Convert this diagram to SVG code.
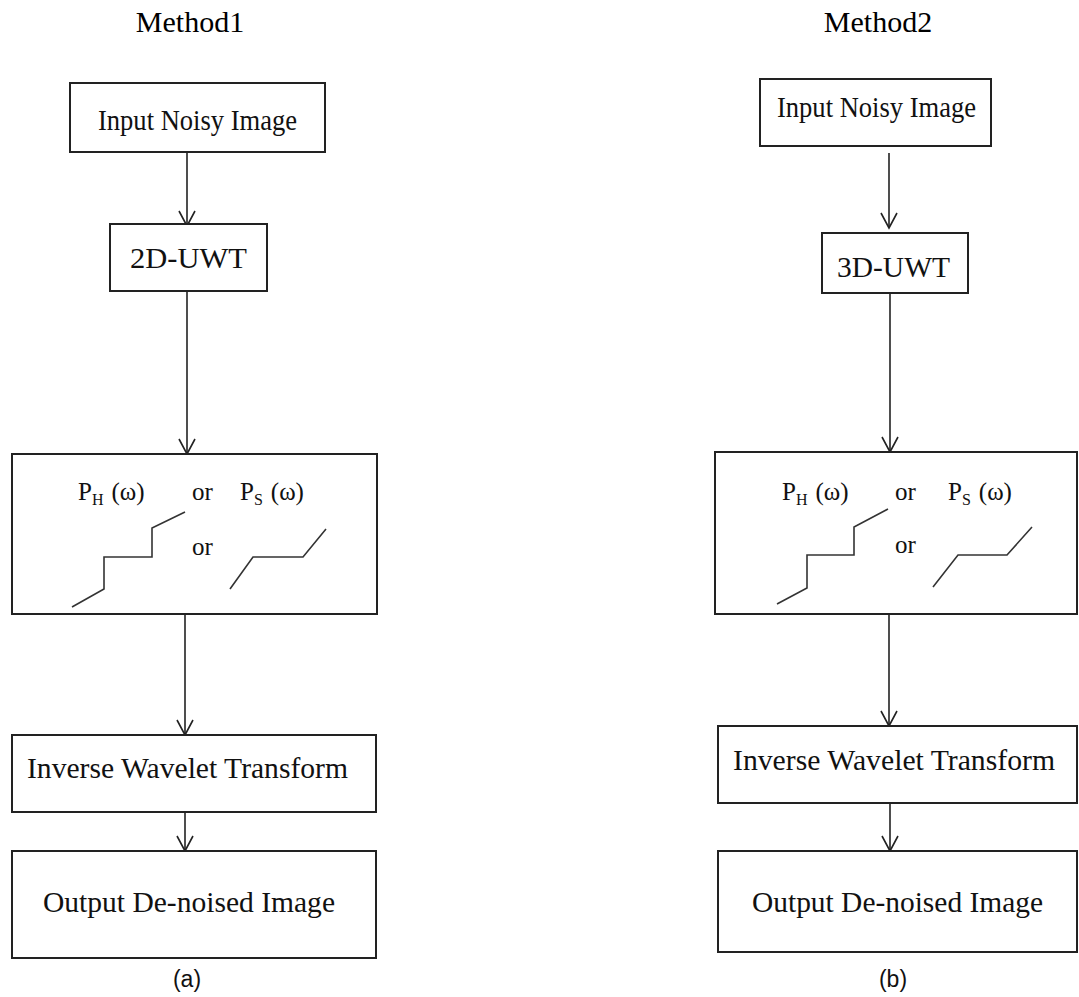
<svg xmlns="http://www.w3.org/2000/svg" width="1079" height="997" viewBox="0 0 1079 997">
  <style>
    .box { fill: #fff; stroke: #222; stroke-width: 2; }
    .link { fill: none; stroke: #222; stroke-width: 1.6; }
    .curve { fill: none; stroke: #333; stroke-width: 1.6; }
    .title { font-family: "Liberation Serif", "Times New Roman", serif; font-size: 30px; fill: #000; text-anchor: middle; }
    .lbl { font-family: "Liberation Serif", "Times New Roman", serif; font-size: 29px; fill: #111; }
    .math { font-family: "Liberation Serif", "Times New Roman", serif; font-size: 25px; fill: #111; }
    .sub { font-size: 16px; }
    .cap { font-family: "Liberation Sans", Arial, sans-serif; font-size: 23px; fill: #111; text-anchor: middle; }
  </style>
  <defs>
    <!-- open V arrowhead; x axis follows the line direction -->
    <marker id="vhead" markerUnits="userSpaceOnUse" markerWidth="20" markerHeight="20" viewBox="-17 -10 20 20" refX="0" refY="0" orient="auto">
      <path d="M-15,-8 L0,0 L-15,8" fill="none" stroke="#222" stroke-width="1.6"/>
    </marker>
  </defs>

  <rect width="1079" height="997" fill="#fff"/>

  <!-- column titles -->
  <text class="title" x="190" y="32">Method1</text>
  <text class="title" x="878" y="32">Method2</text>

  <!-- connectors -->
  <g id="connectors">
    <line class="link" x1="187" y1="152" x2="187" y2="226" marker-end="url(#vhead)"/>
    <line class="link" x1="187" y1="291" x2="187" y2="454" marker-end="url(#vhead)"/>
    <line class="link" x1="185" y1="614" x2="185" y2="735" marker-end="url(#vhead)"/>
    <line class="link" x1="185" y1="812" x2="185" y2="851" marker-end="url(#vhead)"/>

    <line class="link" x1="889" y1="153" x2="889" y2="228" marker-end="url(#vhead)"/>
    <line class="link" x1="890" y1="293" x2="890" y2="452" marker-end="url(#vhead)"/>
    <line class="link" x1="889" y1="614" x2="889" y2="726" marker-end="url(#vhead)"/>
    <line class="link" x1="890" y1="803" x2="890" y2="851" marker-end="url(#vhead)"/>
  </g>

  <!-- Method 1 -->
  <g id="m1-input">
    <rect class="box" x="70" y="83" width="255" height="69"/>
    <text class="lbl" x="98" y="130" textLength="199" lengthAdjust="spacingAndGlyphs">Input Noisy Image</text>
  </g>
  <g id="m1-uwt">
    <rect class="box" x="110" y="224" width="157" height="67"/>
    <text class="lbl" x="130" y="268" textLength="117" lengthAdjust="spacingAndGlyphs">2D-UWT</text>
  </g>
  <g id="m1-threshold">
    <rect class="box" x="12" y="454" width="365" height="160"/>
    <text class="math" x="78" y="500">P<tspan class="sub" dy="5">H</tspan><tspan dx="8" dy="-5">(ω)</tspan></text>
    <text class="math" x="192" y="500">or</text>
    <text class="math" x="240" y="500">P<tspan class="sub" dy="5">S</tspan><tspan dx="8" dy="-5">(ω)</tspan></text>
    <text class="math" x="192" y="555">or</text>
    <polyline class="curve" points="72,607 104,589 104,557 152,557 152,528 185,512"/>
    <polyline class="curve" points="230,589 253,557 303,557 326,529"/>
  </g>
  <g id="m1-inverse">
    <rect class="box" x="12" y="735" width="364" height="77"/>
    <text class="lbl" x="27" y="778" textLength="321" lengthAdjust="spacingAndGlyphs">Inverse Wavelet Transform</text>
  </g>
  <g id="m1-output">
    <rect class="box" x="12" y="851" width="364" height="107"/>
    <text class="lbl" x="43" y="912" textLength="292" lengthAdjust="spacingAndGlyphs">Output De-noised Image</text>
  </g>
  <text class="cap" x="187" y="987">(a)</text>

  <!-- Method 2 -->
  <g id="m2-input">
    <rect class="box" x="760" y="79" width="231" height="67"/>
    <text class="lbl" x="777" y="117" textLength="199" lengthAdjust="spacingAndGlyphs">Input Noisy Image</text>
  </g>
  <g id="m2-uwt">
    <rect class="box" x="822" y="233" width="146" height="60"/>
    <text class="lbl" x="837" y="277" textLength="113" lengthAdjust="spacingAndGlyphs">3D-UWT</text>
  </g>
  <g id="m2-threshold">
    <rect class="box" x="715" y="452" width="362" height="162"/>
    <text class="math" x="782" y="500">P<tspan class="sub" dy="5">H</tspan><tspan dx="8" dy="-5">(ω)</tspan></text>
    <text class="math" x="895" y="500">or</text>
    <text class="math" x="948" y="500">P<tspan class="sub" dy="5">S</tspan><tspan dx="8" dy="-5">(ω)</tspan></text>
    <text class="math" x="895" y="553">or</text>
    <polyline class="curve" points="777,604 807,588 807,555 854,555 854,527 888,509"/>
    <polyline class="curve" points="933,587 958,555 1007,555 1032,527"/>
  </g>
  <g id="m2-inverse">
    <rect class="box" x="718" y="726" width="359" height="77"/>
    <text class="lbl" x="733" y="770" textLength="322" lengthAdjust="spacingAndGlyphs">Inverse Wavelet Transform</text>
  </g>
  <g id="m2-output">
    <rect class="box" x="718" y="851" width="359" height="101"/>
    <text class="lbl" x="752" y="912" textLength="291" lengthAdjust="spacingAndGlyphs">Output De-noised Image</text>
  </g>
  <text class="cap" x="893" y="987">(b)</text>
</svg>
